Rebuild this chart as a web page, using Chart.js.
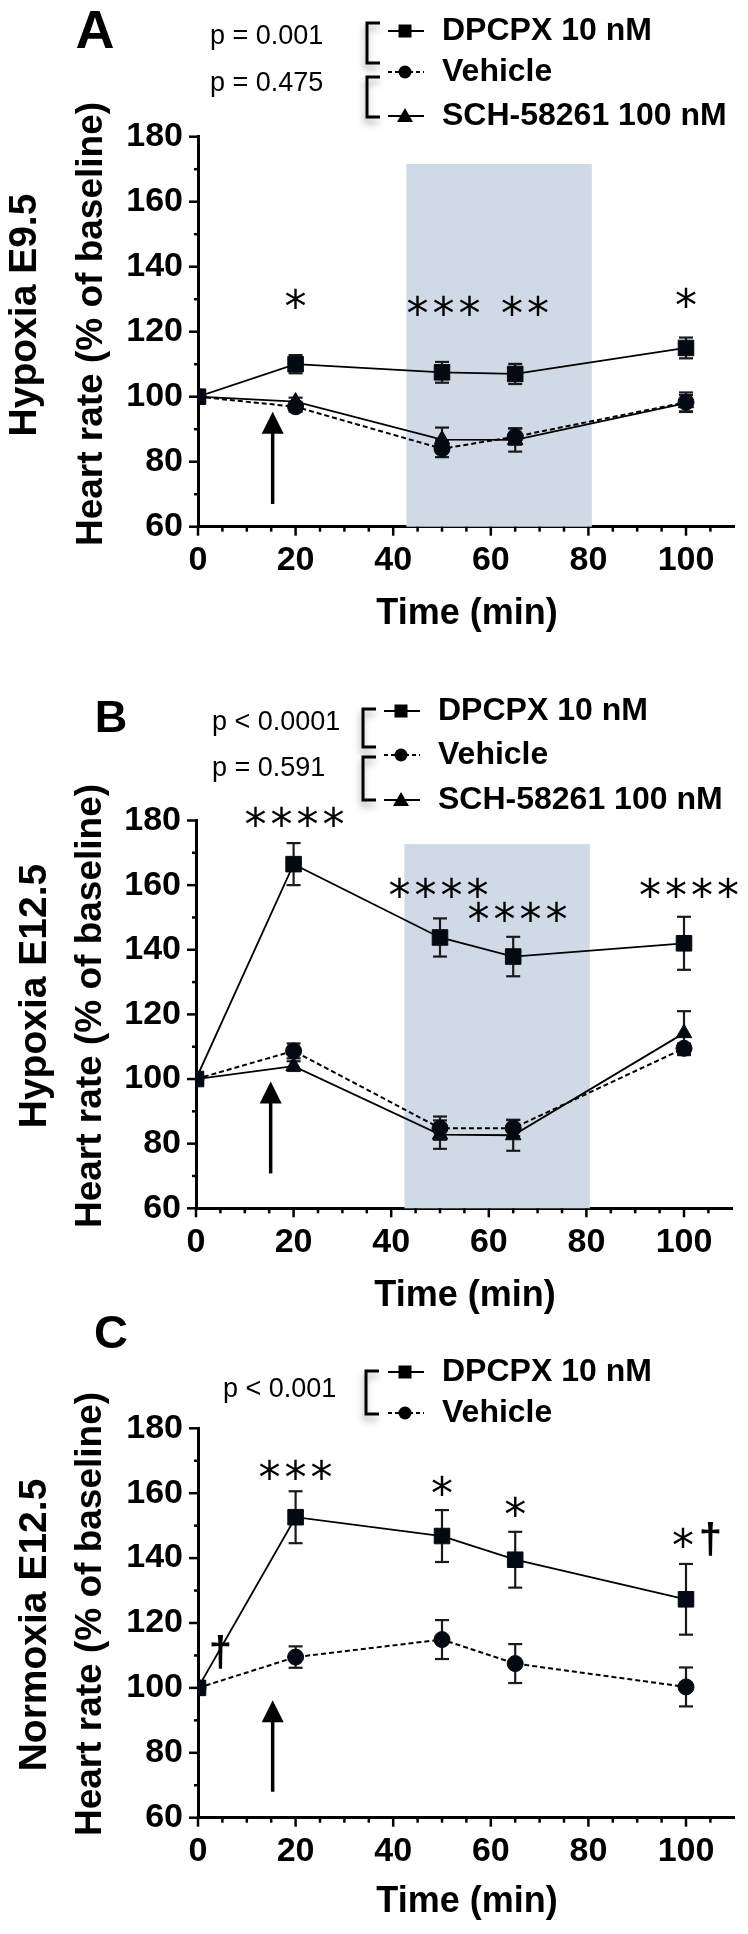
<!DOCTYPE html>
<html>
<head>
<meta charset="utf-8">
<title>Heart rate vs time</title>
<script src="https://cdn.jsdelivr.net/npm/chart.js@4.4.1/dist/chart.umd.min.js"></script>
<style>
    body {margin: 0; background: #fff;}
    #figure {position: relative; width: 748px; height: 1934px;}
    #figure canvas {position: absolute; left: 0; top: 0;}
</style>
</head>
<body>
<div id="figure">
    <canvas id="panel_a" width="748" height="1934"></canvas>
    <canvas id="panel_b" width="748" height="1934"></canvas>
    <canvas id="panel_c" width="748" height="1934"></canvas>
</div>
<script>
// shared x values (min) and labels
const time_min = [0, 20, 50, 65, 100];
const x_tick_labels = [0, 20, 40, 60, 80, 100];
const y_tick_labels = [60, 80, 100, 120, 140, 160, 180];
const series_names = ['DPCPX 10 nM', 'Vehicle', 'SCH-58261 100 nM'];
const hypoxia_window = [42.7, 80.7];
const drug_added_min = 15.3;

// A - hypoxia E9.5
const a_dpcpx = [100, 110, 107.5, 107, 115];
const a_dpcpx_sem = [0, 2.8, 3.2, 3.1, 3.2];
const a_vehicle = [100, 96.9, 84, 87.7, 98.3];
const a_vehicle_sem = [0, 1.5, 2.6, 2.5, 3];
const a_sch = [100, 98.5, 86.8, 86.7, 98];
const a_sch_sem = [0, 1.2, 3.7, 3.6, 2.5];
const a_pvalues = ['p = 0.001', 'p = 0.475'];
const a_marks = [['*', 20, 130.2], ['***', 50.3, 128], ['**', 67, 128], ['*', 100, 130.5]];

// B - hypoxia E12.5
const b_dpcpx = [100, 166.5, 143.8, 137.9, 142];
const b_dpcpx_sem = [0, 6.5, 5.9, 6.1, 8.2];
const b_vehicle = [100, 108.7, 84.8, 84.8, 109.5];
const b_vehicle_sem = [0, 2.3, 3.6, 2.5, 1.5];
const b_sch = [100, 104, 82.8, 82.6, 114.2];
const b_sch_sem = [0, 1.5, 4.4, 4.8, 6.8];
const b_pvalues = ['p < 0.0001', 'p = 0.591'];
const b_marks = [['****', 20.2, 181.2], ['****', 49.7, 159.3], ['****', 65.9, 151.8], ['****', 101, 159.3]];

// C - normoxia E12.5
const c_dpcpx = [100, 152.6, 146.8, 139.5, 127.3];
const c_dpcpx_sem = [0, 8, 8, 8.6, 10.9];
const c_vehicle = [100, 109.5, 114.9, 107.5, 100.3];
const c_vehicle_sem = [0, 3.3, 6, 6, 6];
const c_pvalues = ['p < 0.001'];
const c_marks = [['***', 20, 167.3], ['*', 50, 162.4], ['*', 65, 156], ['*', 99.4, 146.5], ['†', 105, 145.8], ['†', 4.6, 111]];

const font_family = '"Liberation Sans", Arial, Helvetica, sans-serif';
const page_w = 748, page_h = 1934;

// where each panel sits on the page
const layouts = {
    a: {
        box: {left: 198, right: 734.8, top: 136.7, bottom: 526.7},
        letter: ['A', 95, 48, 54],
        outer: ['Hypoxia E9.5', 25, 315], inner: [92, 324], time_label: [467, 614],
        shade_top: 171.6, arrow: [67, 95.4],
        legend: {bracket_x: 367, brackets: [[23, 63], [77, 117]], marker_x: 405, text_x: 442, ys: [31, 72, 116], p_x: 210, p_ys: [36.7, 83.3]}
    },
    b: {
        box: {left: 196, right: 732.8, top: 820.5, bottom: 1208.3},
        letter: ['B', 111, 732, 45],
        outer: ['Hypoxia E12.5', 35, 996], inner: [91, 1006], time_label: [465, 1296],
        shade_top: 172.7, arrow: [70.8, 99.2],
        legend: {bracket_x: 363, brackets: [[709, 747], [757, 800]], marker_x: 401, text_x: 438, ys: [711, 755, 800], p_x: 212, p_ys: [723, 769]}
    },
    c: {
        box: {left: 198, right: 734.8, top: 1428.3, bottom: 1817.7},
        letter: ['C', 111, 1348, 47],
        outer: ['Normoxia E12.5', 35, 1625], inner: [91, 1614], time_label: [467, 1902],
        shade_top: null, arrow: [68, 96.2],
        legend: {bracket_x: 366, brackets: [[1371, 1414]], marker_x: 405, text_x: 442, ys: [1372, 1413], p_x: 223, p_ys: [1390]}
    }
};

const series_styles = [
    {point: 'rect', radius: 11, dash: [], width: 1.8},
    {point: 'circle', radius: 8, dash: [5, 3], width: 2},
    {point: 'triangle', radius: 9, dash: [], width: 1.8}
];

function make_series(idx, values, sem) {
    const st = series_styles[idx];
    return {
        label: series_names[idx],
        data: time_min.map((t, i) => ({x: t, y: values[i]})),
        sem: sem,
        borderColor: '#000',
        backgroundColor: '#050a12',
        borderWidth: st.width,
        borderDash: st.dash,
        pointStyle: st.point,
        pointRadius: st.radius,
        pointBorderWidth: 1,
        pointBorderColor: '#050a12',
        tension: 0
    };
}

function line(ctx, x1, y1, x2, y2) {
    ctx.beginPath();
    ctx.moveTo(x1, y1);
    ctx.lineTo(x2, y2);
    ctx.stroke();
}

function draw_marker(ctx, style, x, y) {
    ctx.beginPath();
    if (style === 'rect') {
        ctx.rect(x - 6.5, y - 6.5, 13, 13);
    } else if (style === 'circle') {
        ctx.arc(x, y, 6.5, 0, Math.PI * 2);
    } else {
        ctx.moveTo(x, y - 8);
        ctx.lineTo(x - 8, y + 6);
        ctx.lineTo(x + 8, y + 6);
        ctx.closePath();
    }
    ctx.fill();
}

// stars and daggers, centred on a data point
function draw_mark(ctx, text, px, py) {
    ctx.save();
    ctx.fillStyle = '#000';
    ctx.font = (text === '†' ? 'bold 42px ' + font_family : '44px "DejaVu Sans", sans-serif');
    ctx.textAlign = 'left';
    ctx.textBaseline = 'alphabetic';
    const m = ctx.measureText(text.charAt(0));
    const mid = (m.actualBoundingBoxAscent - m.actualBoundingBoxDescent) / 2;
    const pitch = 26;
    if (text.length > 1) ctx.letterSpacing = (pitch - m.width) + 'px';
    const x0 = px - ((text.length - 1) * pitch) / 2 - m.width / 2;
    ctx.fillText(text, x0, py + mid);
    ctx.restore();
}

function decor_plugin(lay, pvalues, marks) {
    return {
        id: 'decor',
        beforeDatasetsDraw(chart) {
            const ctx = chart.ctx, xs = chart.scales.x, ys = chart.scales.y;
            ctx.save();
            // hypoxia period
            if (lay.shade_top !== null) {
                const x1 = xs.getPixelForValue(hypoxia_window[0]);
                const x2 = xs.getPixelForValue(hypoxia_window[1]);
                const y1 = ys.getPixelForValue(lay.shade_top);
                ctx.fillStyle = '#d0dae6';
                ctx.fillRect(x1, y1, x2 - x1, chart.chartArea.bottom - y1);
            }
            // error bars (SEM)
            ctx.strokeStyle = '#1a1a1a';
            ctx.lineWidth = 2.2;
            chart.data.datasets.forEach((ds, i) => {
                const meta = chart.getDatasetMeta(i);
                meta.data.forEach((pt, j) => {
                    const e = ds.sem[j];
                    if (!e) return;
                    const y1 = ys.getPixelForValue(ds.data[j].y + e);
                    const y2 = ys.getPixelForValue(ds.data[j].y - e);
                    line(ctx, pt.x, y1, pt.x, y2);
                    line(ctx, pt.x - 7, y1, pt.x + 7, y1);
                    line(ctx, pt.x - 7, y2, pt.x + 7, y2);
                });
            });
            ctx.restore();
        },
        afterDraw(chart) {
            const ctx = chart.ctx, xs = chart.scales.x, ys = chart.scales.y, area = chart.chartArea;
            ctx.save();
            ctx.strokeStyle = '#000';
            ctx.fillStyle = '#000';

            // tick marks
            ctx.lineWidth = 2.5;
            for (let v = 0; v <= 105; v += 5) {
                const px = xs.getPixelForValue(v);
                line(ctx, px, area.bottom, px, area.bottom + (v % 20 === 0 ? 9 : 5));
            }
            for (let v = 60; v <= 180; v += 10) {
                const py = ys.getPixelForValue(v);
                line(ctx, area.left - (v % 20 === 0 ? 9 : 4), py, area.left, py);
            }

            // drug addition arrow
            const ax = xs.getPixelForValue(drug_added_min);
            const a1 = ys.getPixelForValue(lay.arrow[0]);
            const a2 = ys.getPixelForValue(lay.arrow[1]);
            ctx.lineWidth = 3.5;
            line(ctx, ax, a1, ax, a2 + 18);
            ctx.beginPath();
            ctx.moveTo(ax, a2);
            ctx.lineTo(ax - 11, a2 + 22);
            ctx.lineTo(ax + 11, a2 + 22);
            ctx.closePath();
            ctx.fill();

            // significance marks
            marks.forEach(mk => draw_mark(ctx, mk[0], xs.getPixelForValue(mk[1]), ys.getPixelForValue(mk[2])));

            // panel letter
            ctx.font = 'bold ' + lay.letter[3] + 'px ' + font_family;
            ctx.textAlign = 'center';
            ctx.textBaseline = 'alphabetic';
            ctx.fillText(lay.letter[0], lay.letter[1], lay.letter[2]);

            // axis titles
            ctx.textBaseline = 'middle';
            ctx.font = 'bold 36px ' + font_family;
            ctx.fillText('Time (min)', lay.time_label[0], lay.time_label[1]);
            ctx.save();
            ctx.translate(lay.inner[0], lay.inner[1]);
            ctx.rotate(-Math.PI / 2);
            ctx.font = 'bold 37px ' + font_family;
            ctx.fillText('Heart rate (% of baseline)', 0, 0);
            ctx.restore();
            ctx.save();
            ctx.translate(lay.outer[1], lay.outer[2]);
            ctx.rotate(-Math.PI / 2);
            ctx.font = 'bold 39px ' + font_family;
            ctx.fillText(lay.outer[0], 0, 0);
            ctx.restore();

            // legend with brackets
            const lg = lay.legend;
            ctx.save();
            ctx.shadowColor = 'rgba(0,0,0,0.35)';
            ctx.shadowBlur = 7;
            ctx.shadowOffsetX = -1;
            ctx.shadowOffsetY = 5;
            ctx.lineWidth = 3;
            lg.brackets.forEach(br => {
                ctx.beginPath();
                ctx.moveTo(lg.bracket_x + 13, br[0]);
                ctx.lineTo(lg.bracket_x, br[0]);
                ctx.lineTo(lg.bracket_x, br[1]);
                ctx.lineTo(lg.bracket_x + 13, br[1]);
                ctx.stroke();
            });
            ctx.restore();

            lg.ys.forEach((y, i) => {
                const st = series_styles[i];
                ctx.lineWidth = 2;
                ctx.setLineDash(st.dash.length ? [4, 3] : []);
                line(ctx, lg.marker_x - 17, y, lg.marker_x + 19, y);
                ctx.setLineDash([]);
                draw_marker(ctx, st.point, lg.marker_x, y);
                ctx.font = 'bold 32px ' + font_family;
                ctx.textAlign = 'left';
                ctx.fillText(series_names[i], lg.text_x, y);
            });

            ctx.font = '27px ' + font_family;
            ctx.textAlign = 'left';
            pvalues.forEach((p, i) => ctx.fillText(p, lg.p_x, lg.p_ys[i]));

            ctx.restore();
        }
    };
}

function make_panel(canvas_id, lay, datasets, pvalues, marks) {
    const box = lay.box;
    const tick_font = {family: font_family, size: 34, weight: 'bold'};
    return new Chart(document.getElementById(canvas_id), {
        type: 'line',
        data: {datasets: datasets},
        options: {
            responsive: false,
            animation: false,
            devicePixelRatio: 1,
            events: [],
            layout: {padding: {left: 0, top: box.top, right: page_w - box.right, bottom: 0}},
            plugins: {legend: {display: false}, tooltip: {enabled: false}},
            scales: {
                x: {
                    type: 'linear', min: 0, max: 110,
                    afterFit: s => { s.height = page_h - box.bottom; },
                    grid: {display: false, drawTicks: false},
                    border: {display: true, color: '#000', width: 3},
                    ticks: {
                        stepSize: 20, includeBounds: false, padding: 14, color: '#000', font: tick_font, maxRotation: 0,
                        autoSkip: false,
                        callback: v => x_tick_labels.includes(v) ? String(v) : ''
                    }
                },
                y: {
                    type: 'linear', min: 60, max: 180,
                    afterFit: s => { s.width = box.left; },
                    grid: {display: false, drawTicks: false},
                    border: {display: true, color: '#000', width: 3},
                    ticks: {
                        stepSize: 20, padding: 15, color: '#000', font: tick_font,
                        callback: v => y_tick_labels.includes(v) ? String(v) : ''
                    }
                }
            }
        },
        plugins: [decor_plugin(lay, pvalues, marks)]
    });
}

make_panel('panel_a', layouts.a, [
    make_series(0, a_dpcpx, a_dpcpx_sem),
    make_series(1, a_vehicle, a_vehicle_sem),
    make_series(2, a_sch, a_sch_sem)
], a_pvalues, a_marks);

make_panel('panel_b', layouts.b, [
    make_series(0, b_dpcpx, b_dpcpx_sem),
    make_series(1, b_vehicle, b_vehicle_sem),
    make_series(2, b_sch, b_sch_sem)
], b_pvalues, b_marks);

make_panel('panel_c', layouts.c, [
    make_series(0, c_dpcpx, c_dpcpx_sem),
    make_series(1, c_vehicle, c_vehicle_sem)
], c_pvalues, c_marks);
</script>
</body>
</html>
